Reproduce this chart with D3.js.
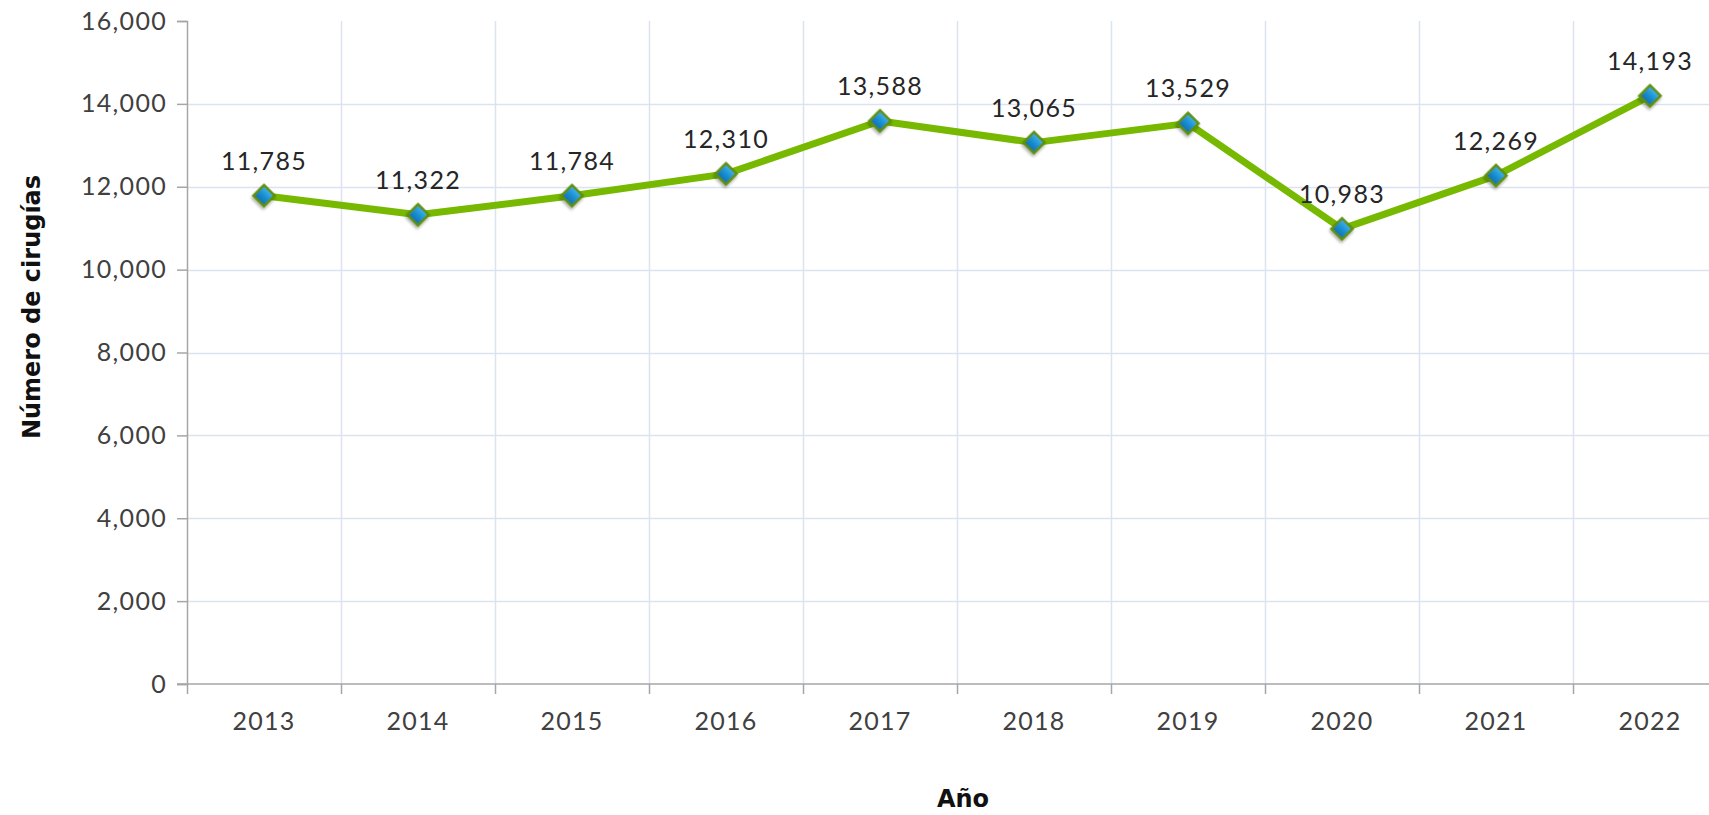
<!DOCTYPE html>
<html>
<head>
<meta charset="utf-8">
<script src="https://cdn.jsdelivr.net/npm/d3@7"></script>
<style>
  html, body { margin: 0; padding: 0; background: #fff; overflow: hidden; }
  svg { display: block; font-family: "Lato", "DejaVu Sans", sans-serif; }
  .num { font-size: 25px; letter-spacing: 1.3px; }
  .ttl { font-family: "DejaVu Sans", sans-serif; font-size: 24px; font-weight: bold; }
</style>
</head>
<body>
<div id="chart"></div>
<script>
// data
const years = ["2013", "2014", "2015", "2016", "2017", "2018", "2019", "2020", "2021", "2022"];
const surgeries = [11785, 11322, 11784, 12310, 13588, 13065, 13529, 10983, 12269, 14193];
const yTicks = [0, 2000, 4000, 6000, 8000, 10000, 12000, 14000, 16000];

const width = 1709, height = 815;
const margin = {left: 187, top: 21, bottom: 131};
const bandW = 154; // plot runs off the right edge in the original

const svg = d3.select("#chart").append("svg")
  .attr("width", width)
  .attr("height", height);

const x = d3.scaleBand()
  .domain(years)
  .range([margin.left, margin.left + bandW * years.length]);

const y = d3.scaleLinear()
  .domain([0, 16000])
  .range([height - margin.bottom, margin.top]);

const defs = svg.append("defs");
const grad = defs.append("linearGradient")
  .attr("id", "diamondFill")
  .attr("x1", "0").attr("y1", "0").attr("x2", "0").attr("y2", "1");
grad.append("stop").attr("offset", "0%").attr("stop-color", "#3fb3ea");
grad.append("stop").attr("offset", "50%").attr("stop-color", "#1b8fd2");
grad.append("stop").attr("offset", "100%").attr("stop-color", "#0d6fae");

const shadow = defs.append("filter").attr("id", "shadow")
  .attr("x", "-50%").attr("y", "-50%").attr("width", "200%").attr("height", "200%");
shadow.append("feDropShadow")
  .attr("dx", 1).attr("dy", 2).attr("stdDeviation", 1.5)
  .attr("flood-color", "#000").attr("flood-opacity", 0.35);

// gridlines
const grid = svg.append("g");
grid.selectAll(".hgrid")
  .data(yTicks.filter(d => d > 0 && d < 16000))
  .enter().append("line")
  .attr("x1", margin.left).attr("x2", width)
  .attr("y1", d => Math.round(y(d)) + 0.5)
  .attr("y2", d => Math.round(y(d)) + 0.5)
  .attr("stroke", "#dbe3f1").attr("stroke-width", 1.5);

grid.selectAll(".vgrid")
  .data(years.slice(1))
  .enter().append("line")
  .attr("x1", d => Math.round(x(d)) + 0.5)
  .attr("x2", d => Math.round(x(d)) + 0.5)
  .attr("y1", margin.top)
  .attr("y2", y(0))
  .attr("stroke", "#dbe3f1").attr("stroke-width", 1.5);

// y axis
const yAxis = svg.append("g")
  .attr("transform", `translate(${margin.left},0)`)
  .call(d3.axisLeft(y).tickValues(yTicks).tickFormat(d3.format(",")).tickSize(10).tickPadding(10));
yAxis.select(".domain").attr("stroke", "#a6a6a6").attr("stroke-width", 1.5);
yAxis.selectAll(".tick line").attr("stroke", "#a6a6a6").attr("stroke-width", 1.5);
yAxis.selectAll(".tick text")
  .attr("class", "num")
  .attr("fill", "#404040");
yAxis.attr("font-size", null).attr("font-family", null);

// x axis: ticks at band boundaries
const xAxisG = svg.append("g")
  .attr("transform", `translate(0,${y(0)})`);
xAxisG.append("line")
  .attr("x1", margin.left - 10).attr("x2", width)
  .attr("stroke", "#a6a6a6").attr("stroke-width", 1.5);
xAxisG.selectAll(".xt")
  .data(years)
  .enter().append("line")
  .attr("x1", d => Math.round(x(d)) + 0.5)
  .attr("x2", d => Math.round(x(d)) + 0.5)
  .attr("y1", 0).attr("y2", 10)
  .attr("stroke", "#a6a6a6").attr("stroke-width", 1.5);
xAxisG.selectAll(".xl")
  .data(years)
  .enter().append("text")
  .attr("class", "num")
  .attr("x", d => x(d) + x.bandwidth() / 2)
  .attr("y", 46)
  .attr("text-anchor", "middle")
  .attr("fill", "#404040")
  .text(d => d);

// titles
svg.append("text")
  .attr("class", "ttl")
  .attr("transform", `translate(40,307) rotate(-90)`)
  .attr("text-anchor", "middle")
  .attr("fill", "#111")
  .text("Número de cirugías");

svg.append("text")
  .attr("class", "ttl")
  .attr("x", 963)
  .attr("y", 807)
  .attr("text-anchor", "middle")
  .attr("fill", "#111")
  .text("Año");

const pts = years.map((yr, i) => ({year: yr, value: surgeries[i]}));
const cx = d => x(d.year) + x.bandwidth() / 2;

// line
svg.append("path")
  .datum(pts)
  .attr("fill", "none")
  .attr("stroke", "#76b900")
  .attr("stroke-width", 7)
  .attr("stroke-linejoin", "round")
  .attr("d", d3.line().x(cx).y(d => y(d.value)));

// diamond markers
svg.selectAll(".marker")
  .data(pts)
  .enter().append("path")
  .attr("class", "marker")
  .attr("d", d3.symbol().type(d3.symbolSquare).size(220))
  .attr("transform", d => `translate(${cx(d)},${y(d.value)}) rotate(45)`)
  .attr("fill", "url(#diamondFill)")
  .attr("stroke", "#5e8f0a")
  .attr("stroke-width", 2.5)
  .attr("filter", "url(#shadow)");

// data labels
svg.selectAll(".lbl")
  .data(pts)
  .enter().append("text")
  .attr("class", "num")
  .attr("x", cx)
  .attr("y", d => y(d.value) - 26)
  .attr("text-anchor", "middle")
  .attr("fill", "#262626")
  .text(d => d3.format(",")(d.value));
</script>
</body>
</html>
